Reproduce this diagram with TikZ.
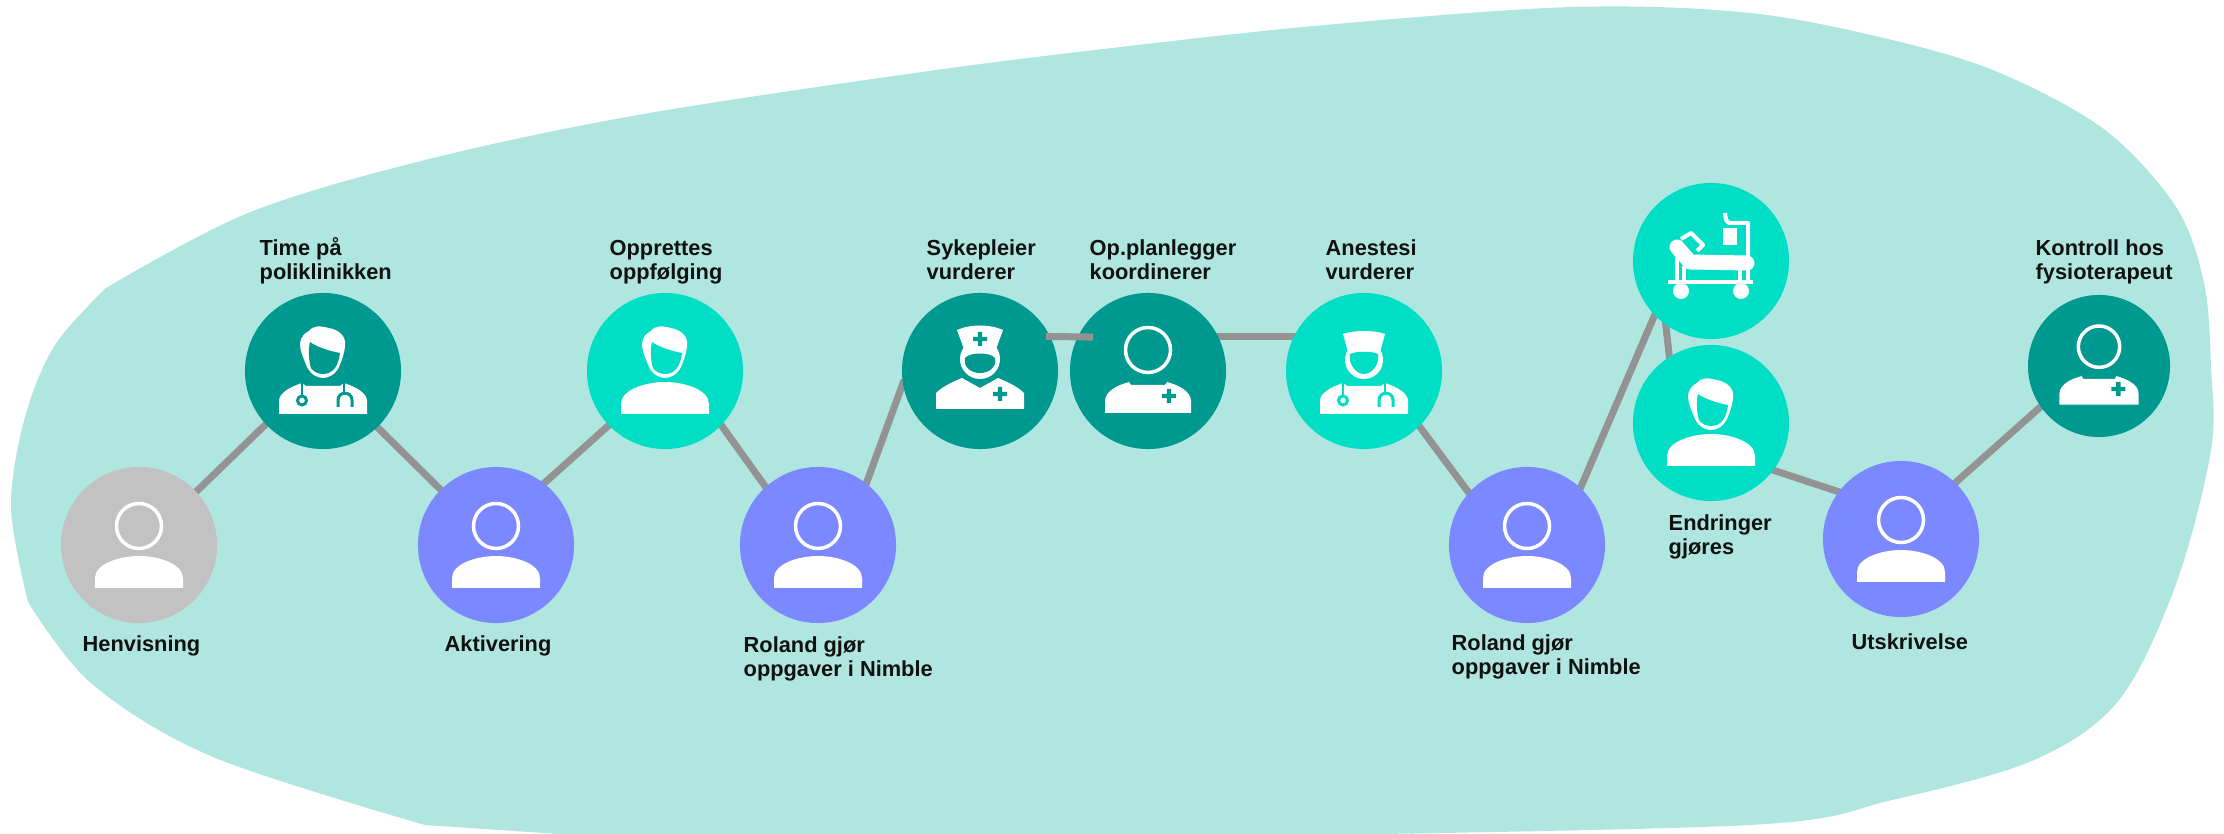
\documentclass[tikz,border=0pt]{standalone}
\usepackage{fontspec}
\setmainfont{Liberation Sans}
\usetikzlibrary{backgrounds}
\definecolor{blobcol}{HTML}{B0E6E0}
\definecolor{tealcol}{HTML}{009990}
\definecolor{mintcol}{HTML}{00DEC5}
\definecolor{bluecol}{HTML}{7B88FF}
\definecolor{greycol}{HTML}{C2C2C2}
\definecolor{linecol}{HTML}{939393}
\definecolor{textcol}{HTML}{111111}
\tikzset{
  stepdot/.style={circle,inner sep=0pt,minimum size=1.56cm},
  tealdot/.style={stepdot,fill=tealcol},
  mintdot/.style={stepdot,fill=mintcol},
  bluedot/.style={stepdot,fill=bluecol},
  greydot/.style={stepdot,fill=greycol},
  link/.style={draw=linecol,line width=0.07cm,shorten <=-0.05cm,shorten >=-0.05cm},
  steptext/.style={anchor=base west,align=left,inner sep=0pt,text=textcol,font=\fontsize{6.2}{7.1}\selectfont\bfseries},
  pics/domebody/.style={code={
    \fill[white] (-44,43) -- (-44,33) .. controls (-44,19) and (-20,11) .. (0,11) .. controls (20,11) and (44,19) .. (44,33) -- (44,43) -- cycle;
  }},
  pics/userico/.style={code={
    \draw[white,line width=0.035cm] (0,-19) circle (22.5);
    \pic {domebody};
  }},
  pics/hairhead/.style={code={
    \fill[white] (-23,-27) .. controls (-22,-35) and (-18,-38) .. (-14,-40) .. controls (-10,-46) and (-2,-45) .. (6,-43) .. controls (16,-41) and (23,-35) .. (22,-26) .. controls (22,-20) and (20,-14) .. (16,-4) .. controls (12,4) and (5,7) .. (0,7) .. controls (-5,7) and (-12,4) .. (-16,-4) .. controls (-20,-14) and (-23,-20) .. (-23,-27) -- cycle;
    \fill[#1] (-13,-29) .. controls (-6,-24) and (6,-20) .. (17,-18) .. controls (16,-10) and (14,-6) .. (12,-3) .. controls (9,1) and (5,3) .. (0,3) .. controls (-5,3) and (-9,1) .. (-12,-3) .. controls (-14,-8) and (-15,-22) .. (-13,-29) -- cycle;
  }},
  pics/steth/.style={code={
    \fill[white] (-44,43) -- (-44,30) .. controls (-44,22) and (-33,16) .. (-21,12) -- (-17,15) -- (17,15) -- (21,12) .. controls (33,16) and (44,22) .. (44,30) -- (44,43) -- cycle;
    \draw[#1,line width=0.022cm] (-21,12) -- (-21,25);
    \draw[#1,line width=0.03cm] (-21,29.5) circle (4.5);
    \draw[#1,line width=0.022cm] (21,12) -- (21,22);
    \draw[#1,line width=0.03cm] (15,36) -- (15,29) .. controls (15,20) and (29,20) .. (29,29) -- (29,36);
  }},
  pics/medcross/.style={code={
    \fill[#1] (-2.2,-7) rectangle (2.2,7) (-7,-2.2) rectangle (7,2.2);
  }},
  pics/doctorico/.style={code={
    \pic {hairhead=#1};
    \pic {steth=#1};
  }},
  pics/youngico/.style={code={
    \pic {hairhead=#1};
    \pic {domebody};
  }},
  pics/nurseico/.style={code={
    \fill[white] (0,-12) circle (20);
    \fill[white] (-23,-41) .. controls (-10,-47) and (10,-47) .. (23,-41) -- (15,-19) -- (-15,-19) -- cycle;
    \fill[#1] (-15,-13) .. controls (-10,-19) and (10,-19) .. (15,-13) .. controls (17,-3) and (8,2) .. (0,2) .. controls (-8,2) and (-17,-3) .. (-15,-13) -- cycle;
    \fill[white] (-44,38) -- (-44,22) .. controls (-38,16) and (-28,11) .. (-18,7) -- (0,17) -- (18,7) .. controls (28,11) and (38,16) .. (44,22) -- (44,38) -- cycle;
    \pic at (0,-32) {medcross=#1};
    \pic at (20,23) {medcross=#1};
  }},
  pics/planico/.style={code={
    \draw[white,line width=0.035cm] (0,-21) circle (22.5);
    \fill[white] (-43,42) -- (-43,30) .. controls (-43,20) and (-30,14) .. (-19,11) -- (-17,14) -- (17,14) -- (19,11) .. controls (30,14) and (43,20) .. (43,30) -- (43,42) -- cycle;
    \pic at (21,25) {medcross=#1};
  }},
  pics/anesico/.style={code={
    \fill[white] (0,-11) circle (19);
    \fill[white] (-21,-37) .. controls (-10,-41) and (10,-41) .. (21,-37) -- (16,-19) -- (-16,-19) -- cycle;
    \fill[#1] (-14,-17) .. controls (-8,-20) and (8,-20) .. (14,-17) .. controls (16,-7) and (8,3) .. (0,3) .. controls (-8,3) and (-16,-7) .. (-14,-17) -- cycle;
    \pic {steth=#1};
  }},
  pics/bedico/.style={code={
    \draw[white,line width=0.15cm,line cap=round,line join=round] (-34,-14) -- (-21,1) -- (36,2);
    \draw[white,line width=0.04cm,line join=round] (-30,-22) -- (-20,-28) -- (-8,-16) -- (-14,-10);
    \draw[white,line width=0.04cm] (-43,21) -- (42,21);
    \draw[white,line width=0.04cm] (-34,-11) -- (-34,21);
    \draw[white,line width=0.04cm,line join=round] (37,21) -- (37,-38) -- (18,-38) -- (15,-41) -- (14,-48);
    \draw[white,line width=0.04cm] (29,5) -- (29,21) (-27,5) -- (-27,21);
    \fill[white] (12,-33) rectangle (26,-16);
    \fill[white] (-30,30) circle (8) (30,30) circle (8);
  }},
}
\begin{document}
\begin{tikzpicture}[x=0.01cm,y=-0.01cm]
\useasboundingbox (0,0) rectangle (2224,834);
\begin{scope}[on background layer]
\fill[blobcol] plot[smooth,tension=0.55] coordinates {(106,288) (248,213) (425,160) (638,115) (922,72) (1112,48) (1325,25) (1573,7) (1750,13) (1892,40) (2000,73) (2105,130) (2176,207) (2204,283) (2211,367) (2211,450) (2176,584) (2119,700) (2034,760) (1892,800) (1750,825) (1254,836)}
  -- (589,836) -- plot[smooth,tension=0.55] coordinates {(425,825) (213,757) (92,684) (28,602)}
  -- plot[smooth,tension=0.55] coordinates {(28,602) (11,507) (25,417) (55,345) (106,288)} -- cycle;
\end{scope}
\node[greydot] (hen) at (139,545) {};
\node[tealdot] (tim) at (323,371) {};
\node[bluedot] (akt) at (496,545) {};
\node[mintdot] (opp) at (665,371) {};
\node[bluedot] (rola) at (818,545) {};
\node[tealdot] (syk) at (980,371) {};
\node[tealdot] (ops) at (1148,371) {};
\node[mintdot] (ane) at (1364,371) {};
\node[bluedot] (rolb) at (1527,545) {};
\node[mintdot] (bed) at (1711,261) {};
\node[mintdot] (end) at (1711,423) {};
\node[bluedot] (uts) at (1901,539) {};
\node[tealdot,minimum size=1.42cm] (kon) at (2099,366) {};
\coordinate (opsstub) at (1088,337);
\begin{scope}[on background layer]
\draw[link] (hen.43) -- (tim.223);
\draw[link] (tim.-46) -- (akt.135);
\draw[link] (akt.52) -- (opp.224);
\draw[link] (opp.-44) -- (rola.132);
\draw[link] (rola.52) -- (syk.190);
\draw[link] (ops.26) -- (ane.154);
\draw[link] (ane.-45) -- (rolb.138);
\draw[link] (rolb.47) -- (bed.224);
\draw[link] (bed.235) -- (end.122);
\draw[link] (end.-37) -- (uts.143);
\draw[link] (uts.46) -- (kon.215);
\end{scope}
\draw[link] (syk.26) -- (opsstub);
\pic at (hen) {userico};
\pic at (tim) {doctorico=tealcol};
\pic at (akt) {userico};
\pic at (opp) {youngico=mintcol};
\pic at (rola) {userico};
\pic at (syk) {nurseico=tealcol};
\pic at (ops) {planico=tealcol};
\pic at (ane) {anesico=mintcol};
\pic at (rolb) {userico};
\pic at (bed) {bedico};
\pic at (end) {youngico=mintcol};
\pic at (uts) {userico};
\pic[scale=0.92] at (kon) {planico=tealcol};
\node[steptext] (henlab) at (82,652) {Henvisning};
\node[steptext] (timlab) at (259,280) {Time på\\poliklinikken};
\node[steptext] (aktlab) at (444,652) {Aktivering};
\node[steptext] (opplab) at (609,280) {Opprettes\\oppfølging};
\node[steptext] (rolalab) at (743,677) {Roland gjør\\oppgaver i Nimble};
\node[steptext] (syklab) at (926,280) {Sykepleier\\vurderer};
\node[steptext] (opslab) at (1089,280) {Op.planlegger\\koordinerer};
\node[steptext] (anelab) at (1325,280) {Anestesi\\vurderer};
\node[steptext] (rolblab) at (1451,675) {Roland gjør\\oppgaver i Nimble};
\node[steptext] (endlab) at (1668,555) {Endringer\\gjøres};
\node[steptext] (utslab) at (1851,650) {Utskrivelse};
\node[steptext] (konlab) at (2035,280) {Kontroll hos\\fysioterapeut};
\end{tikzpicture}
\end{document}
